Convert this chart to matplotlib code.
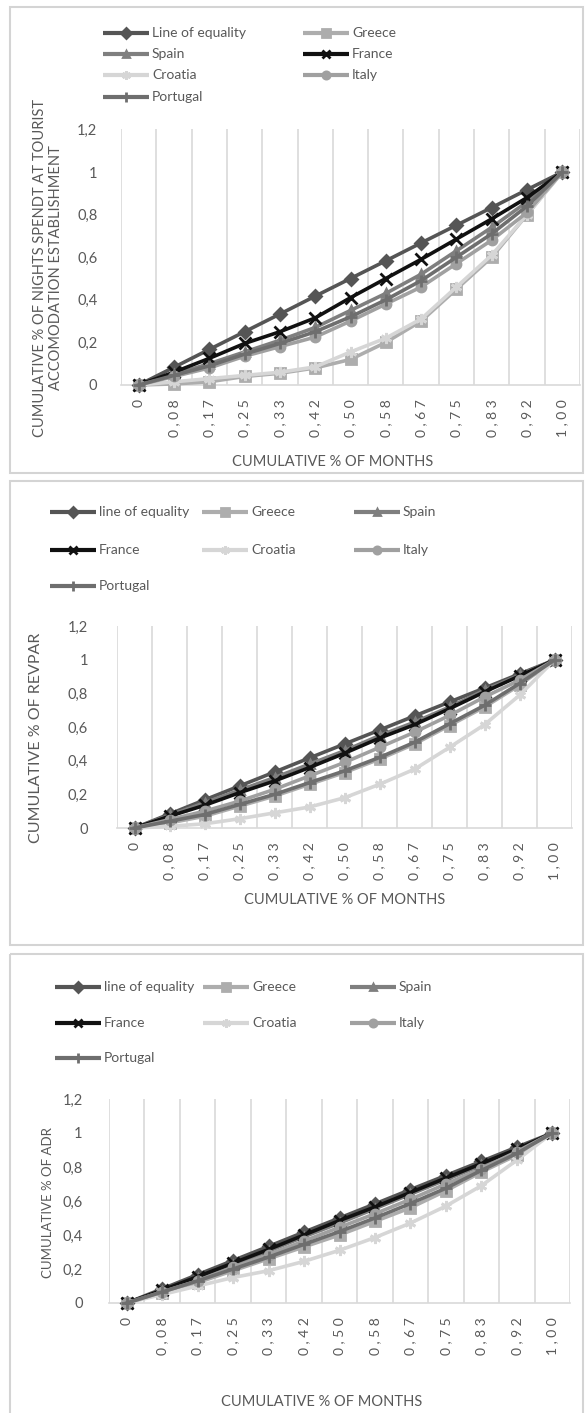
import matplotlib
matplotlib.use("Agg")
import matplotlib.pyplot as plt
from matplotlib.lines import Line2D
from matplotlib.patches import Rectangle
import numpy as np

plt.rcParams['font.family'] = ['Lato', 'DejaVu Sans']

W, H = 586, 1413
TXT = '#595959'
GRID = '#d9d9d9'

# categories (cumulative % of months)
months = ["0", "0,08", "0,17", "0,25", "0,33", "0,42", "0,50",
          "0,58", "0,67", "0,75", "0,83", "0,92", "1,00"]
yticks = [0, 0.2, 0.4, 0.6, 0.8, 1.0, 1.2]
ytick_labels = ["0", "0,2", "0,4", "0,6", "0,8", "1", "1,2"]

equality = [0, 0.083, 0.167, 0.25, 0.333, 0.417, 0.5, 0.583, 0.667, 0.75, 0.833, 0.917, 1]

# nights spent at tourist accommodation
greece1 = [0, 0.005, 0.015, 0.04, 0.055, 0.08, 0.12, 0.20, 0.30, 0.45, 0.60, 0.80, 1]
spain1 = [0, 0.05, 0.10, 0.155, 0.21, 0.27, 0.35, 0.43, 0.52, 0.63, 0.74, 0.86, 1]
france1 = [0, 0.06, 0.125, 0.195, 0.25, 0.315, 0.41, 0.50, 0.59, 0.685, 0.78, 0.88, 1]
croatia1 = [0, 0.015, 0.03, 0.045, 0.06, 0.085, 0.155, 0.22, 0.31, 0.46, 0.61, 0.80, 1]
italy1 = [0, 0.04, 0.08, 0.135, 0.18, 0.225, 0.30, 0.38, 0.46, 0.57, 0.68, 0.81, 1]
portugal1 = [0, 0.045, 0.09, 0.145, 0.195, 0.25, 0.32, 0.40, 0.49, 0.60, 0.71, 0.84, 1]

# RevPAR
greece2 = [0, 0.03, 0.07, 0.13, 0.19, 0.26, 0.33, 0.41, 0.50, 0.61, 0.72, 0.85, 1]
spain2 = [0, 0.075, 0.15, 0.225, 0.30, 0.38, 0.46, 0.55, 0.63, 0.72, 0.82, 0.91, 1]
france2 = [0, 0.07, 0.135, 0.21, 0.28, 0.36, 0.445, 0.535, 0.615, 0.71, 0.81, 0.905, 1]
croatia2 = [0, 0.01, 0.025, 0.055, 0.09, 0.125, 0.18, 0.26, 0.35, 0.48, 0.615, 0.79, 1]
italy2 = [0, 0.05, 0.10, 0.16, 0.23, 0.31, 0.39, 0.48, 0.57, 0.67, 0.78, 0.88, 1]
portugal2 = [0, 0.04, 0.08, 0.14, 0.20, 0.27, 0.34, 0.42, 0.51, 0.62, 0.73, 0.86, 1]

# ADR
greece3 = [0, 0.06, 0.12, 0.19, 0.26, 0.33, 0.40, 0.48, 0.56, 0.66, 0.77, 0.87, 1]
spain3 = [0, 0.07, 0.15, 0.225, 0.305, 0.39, 0.47, 0.555, 0.64, 0.725, 0.81, 0.90, 1]
france3 = [0, 0.075, 0.155, 0.235, 0.315, 0.40, 0.485, 0.565, 0.65, 0.735, 0.82, 0.905, 1]
croatia3 = [0, 0.05, 0.10, 0.15, 0.19, 0.245, 0.31, 0.385, 0.47, 0.57, 0.69, 0.84, 1]
italy3 = [0, 0.065, 0.13, 0.21, 0.285, 0.365, 0.445, 0.525, 0.61, 0.70, 0.79, 0.89, 1]
portugal3 = [0, 0.065, 0.13, 0.20, 0.27, 0.345, 0.42, 0.50, 0.585, 0.675, 0.78, 0.88, 1]

names = ["Line of equality", "Greece", "Spain", "France", "Croatia", "Italy", "Portugal"]
colors = ['#555555', '#adadad', '#7f7f7f', '#111111', '#d6d6d6', '#a0a0a0', '#6e6e6e']
markers = ['D', 's', '^', 'x', (6, 2, 0), 'o', '+']
msizes = [6, 7, 6, 8, 8, 6.5, 9]

fig = plt.figure(figsize=(W / 100, H / 100), dpi=100)

# overlay in pixel coordinates for frames, legends and titles
bg = fig.add_axes([0, 0, 1, 1], zorder=0)
bg.set_xlim(0, W)
bg.set_ylim(H, 0)
bg.axis('off')

for (y0, y1) in [(7, 473), (481, 945), (954, 1420)]:
    bg.add_patch(Rectangle((10, y0), 573, y1 - y0, fill=False, ec='#d4d4d4', lw=1.5))


def box(x0, ytop, x1, ybot):
    return [x0 / W, 1 - ybot / H, (x1 - x0) / W, (ybot - ytop) / H]


def legend(cols, rows, labels):
    # labels laid out row by row
    i = 0
    for r in rows:
        for c in cols:
            if i >= len(labels):
                return
            bg.add_line(Line2D([c, c + 46], [r, r], color=colors[i], lw=3,
                               solid_capstyle='butt'))
            bg.plot([c + 23], [r], marker=markers[i], color=colors[i],
                    ms=msizes[i] * 0.8, mew=2)
            bg.text(c + 49, r, labels[i], color=TXT, fontsize=10, va='center', ha='left')
            i += 1


def panel(rect, series, ypad):
    ax = fig.add_axes(rect, zorder=2)
    ax.patch.set_alpha(0)
    x = np.arange(len(months))
    for i, s in enumerate(series):
        ax.plot(x, s, color=colors[i], lw=2.6, marker=markers[i], ms=msizes[i],
                mew=2, clip_on=False, zorder=3 + i)
    ax.set_xlim(-0.5, len(months) - 0.5)
    ax.set_ylim(0, 1.2)
    ax.set_xticks(x)
    ax.set_xticklabels([" ".join(m) for m in months], rotation=90, fontsize=10,
                       color=TXT, va='top')
    ax.set_xticks(np.arange(-0.5, len(months)), minor=True)
    ax.xaxis.grid(True, which='minor', color=GRID, lw=1.2)
    ax.tick_params(axis='x', which='both', length=0, pad=10)
    ax.set_yticks(yticks)
    ax.set_yticklabels(ytick_labels, fontsize=10.5, color=TXT)
    ax.tick_params(axis='y', length=0, pad=ypad)
    for side in ['top', 'right', 'left']:
        ax.spines[side].set_visible(False)
    ax.spines['bottom'].set_color(GRID)
    ax.spines['bottom'].set_linewidth(1.2)
    return ax


# panel 1
legend([103, 303], [33, 54, 75, 97], names)
panel(box(121, 385 - 1.2 * 213, 580, 385),
      [equality, greece1, spain1, france1, croatia1, italy1, portugal1], 17)
bg.text(48, 268, "CUMULATIVE % OF NIGHTS SPENDT AT TOURIST\nACCOMODATION ESTABLISHMENT",
        rotation=90, ha='center', va='center', multialignment='center',
        fontsize=10.5, color=TXT, linespacing=1.15)
bg.text(333, 462, "CUMULATIVE % OF MONTHS", ha='center', va='center', fontsize=10.5, color=TXT)

# panel 2
names2 = ["line of equality"] + names[1:]
legend([50, 202, 354], [512, 550, 586], names2)
panel(box(117, 828 - 1.2 * 168, 572, 828),
      [equality, greece2, spain2, france2, croatia2, italy2, portugal2], 21)
bg.text(36, 738, "CUMULATIVE % OF REVPAR", rotation=90, ha='center', va='center',
        fontsize=11.5, color=TXT)
bg.text(345, 900, "CUMULATIVE % OF MONTHS", ha='center', va='center', fontsize=10.5, color=TXT)

# panel 3
legend([55, 203, 350], [987, 1023, 1058], names2)
panel(box(109, 1303 - 1.2 * 170, 570, 1303),
      [equality, greece3, spain3, france3, croatia3, italy3, portugal3], 19)
bg.text(48, 1203, "CUMULATIVE % OF ADR", rotation=90, ha='center', va='center',
        fontsize=9.5, color=TXT)
bg.text(322, 1402, "CUMULATIVE % OF MONTHS", ha='center', va='center', fontsize=10.5, color=TXT)

fig.savefig("out.png", dpi=100)
